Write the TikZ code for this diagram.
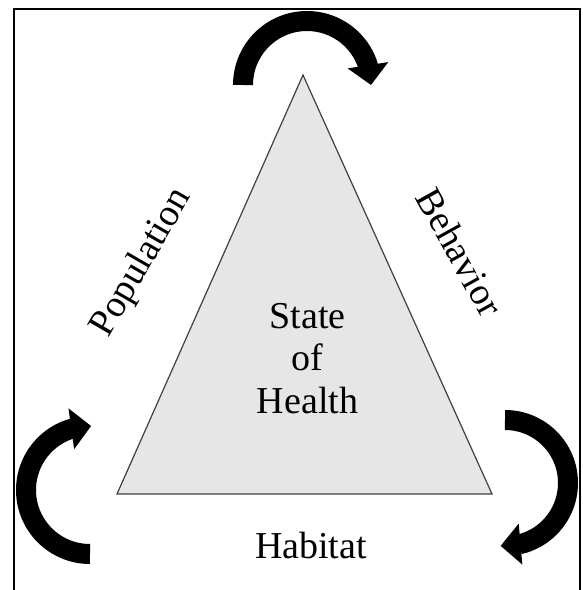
\documentclass[tikz,border=0pt]{standalone}
\usepackage{fontspec}
\setmainfont{Liberation Serif}
\usetikzlibrary{arrows.meta,bending}
\definecolor{trifill}{HTML}{E6E6E6}
\definecolor{triline}{HTML}{404040}
\tikzset{
  cyclearrow/.style={line width=20pt, black, -{Triangle[length=20pt,width=40pt]}},
  lbl/.style={font=\fontsize{38}{41}\selectfont, inner sep=0pt},
  framestyle/.style={line width=2pt, black}
}
\begin{document}
\begin{tikzpicture}[x=1pt,y=-1pt]
\useasboundingbox (0,0) rectangle (582,590);
% frame
\draw[framestyle] (13.5,592) -- (13.5,8.5) -- (580,8.5) -- (580,592);
% triangle
\coordinate (apex) at (303,75);
\coordinate (bl) at (117,494);
\coordinate (br) at (492,494);
\filldraw[fill=trifill, draw=triline, line width=1.2pt, line join=miter] (apex) -- (bl) -- (br) -- cycle;
% text
\node[lbl, anchor=base] (state) at (307.5,328) {State};
\node[lbl, anchor=base] (of) at (307.5,370) {of};
\node[lbl, anchor=base] (health) at (307.5,413) {Health};
\node[lbl, anchor=base] (habitat) at (311,558) {Habitat};
\node[lbl, rotate=60] (population) at (142,263) {Population};
\node[lbl, rotate=-61] (behavior) at (460,252) {Behavior};
% arrows
\coordinate (topc) at (307,85);
\coordinate (leftc) at (90,490);
\coordinate (rightc) at (505,483);
\draw[cyclearrow] ([shift={(180:64)}]topc) arc[start angle=180, end angle=360, radius=64];
\draw[cyclearrow] ([shift={(90:64)}]leftc) arc[start angle=90, end angle=271, radius=64];
\draw[cyclearrow] ([shift={(-90:63)}]rightc) arc[start angle=-90, end angle=94, radius=63];
\end{tikzpicture}
\end{document}
